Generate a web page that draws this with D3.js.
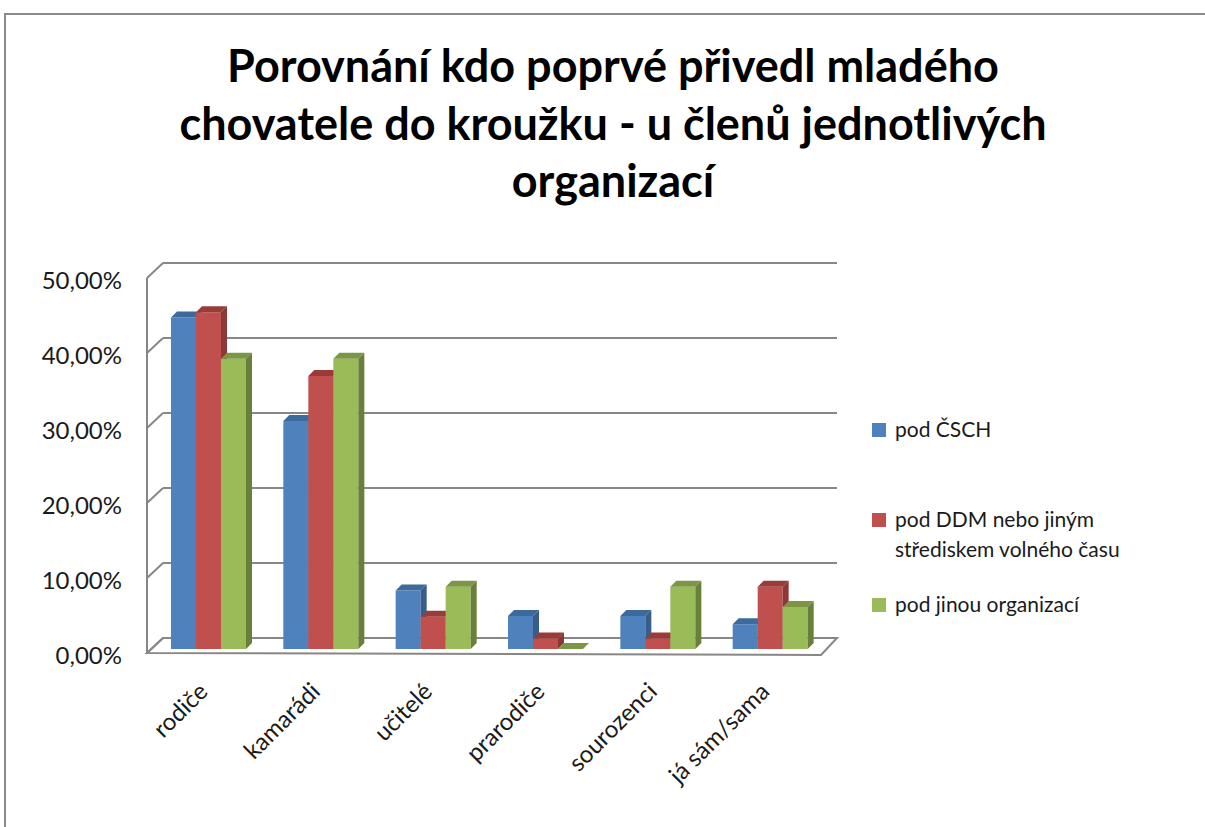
<!DOCTYPE html>
<html>
<head>
<meta charset="utf-8">
<script src="https://cdn.jsdelivr.net/npm/d3@7"></script>
<style>
  body { margin: 0; background: #fff; }
  text { font-family: Lato, "Open Sans", sans-serif; }
</style>
</head>
<body>
<script>
var categories = ["rodiče", "kamarádi", "učitelé", "prarodiče", "sourozenci", "já sám/sama"];
var seriesNames = ["pod ČSCH", "pod DDM nebo jiným střediskem volného času", "pod jinou organizací"];
var csch = [44.2, 30.4, 7.8, 4.4, 4.4, 3.3];
var ddm = [44.9, 36.4, 4.3, 1.4, 1.4, 8.3];
var jina = [38.7, 38.7, 8.3, 0, 8.3, 5.6];
var yTicks = [0, 10, 20, 30, 40, 50];
var titleLines = ["Porovnání kdo poprvé přivedl mladého", "chovatele do kroužku - u členů jednotlivých", "organizací"];
var legendLines = [["pod ČSCH"], ["pod DDM nebo jiným", "střediskem volného času"], ["pod jinou organizací"]];

var w = 1205, h = 827;
var colors = [
  {front: "#4f81bd", top: "#3d6a9c", side: "#385d8a"},
  {front: "#c0504d", top: "#9b3b39", side: "#8c3836"},
  {front: "#9bbb59", top: "#7c9646", side: "#697f3c"}
];
var values = [csch, ddm, jina];

var svg = d3.select("body").append("svg")
  .attr("width", w)
  .attr("height", h);

// chart frame
svg.append("path")
  .attr("d", "M5,830 L5,14 L1210,14")
  .attr("fill", "none")
  .attr("stroke", "#8a8a8a")
  .attr("stroke-width", 2);

// 3D geometry
var backLeft = 163, backRight = 837;
var depthX = 16, depthY = 15;      // wall depth (back -> front)
var barShiftX = 11, barShiftY = 11; // bar plane relative to back wall
var barDepth = 6;

var yBack = d3.scaleLinear().domain([0, 50]).range([638, 263]);
var yFront = d3.scaleLinear().domain([0, 50]).range([638 + depthY, 263 + depthY]);
var yBar = d3.scaleLinear().domain([0, 50]).range([638 + barShiftY, 263 + barShiftY]);

var xBar = d3.scaleBand().domain(categories).range([backLeft - barShiftX, backRight - barShiftX]);
var xSeries = d3.scaleBand().domain(d3.range(3)).range([19, 94]);

var gridColor = "#878787";

// floor
var f0 = yBack(0);
svg.append("path")
  .attr("d", "M" + backLeft + "," + f0 + " L" + backRight + "," + f0 +
    " L" + (backRight - depthX) + "," + (f0 + depthY + 2) +
    " L" + (backLeft - depthX) + "," + (f0 + depthY) + " Z")
  .attr("fill", "none")
  .attr("stroke", gridColor)
  .attr("stroke-width", 2);

// gridlines on back wall + side wall diagonals
var grid = svg.append("g");
yTicks.forEach(function(t) {
  if (t > 0) {
    grid.append("line")
      .attr("x1", backLeft).attr("x2", backRight)
      .attr("y1", yBack(t)).attr("y2", yBack(t))
      .attr("stroke", gridColor).attr("stroke-width", 2);
  }
  grid.append("line")
    .attr("x1", backLeft - depthX).attr("y1", yFront(t))
    .attr("x2", backLeft).attr("y2", yBack(t))
    .attr("stroke", gridColor).attr("stroke-width", 2);
});
grid.append("line")
  .attr("x1", backLeft - depthX).attr("x2", backLeft - depthX)
  .attr("y1", yFront(50)).attr("y2", yFront(0))
  .attr("stroke", gridColor).attr("stroke-width", 2);

// bars
var bars = svg.append("g");
categories.forEach(function(c, ci) {
  for (var s = 0; s < 3; s++) {
    var v = values[s][ci];
    var x = xBar(c) + xSeries(s);
    var bw = xSeries.bandwidth();
    var y = yBar(v), y0 = yBar(0);
    var col = colors[s];
    bars.append("rect")
      .attr("x", x).attr("y", y)
      .attr("width", bw).attr("height", y0 - y)
      .attr("fill", col.front);
    bars.append("path")
      .attr("d", "M" + x + "," + y + " L" + (x + bw) + "," + y +
        " L" + (x + bw + barDepth) + "," + (y - barDepth) +
        " L" + (x + barDepth) + "," + (y - barDepth) + " Z")
      .attr("fill", col.top);
    bars.append("path")
      .attr("d", "M" + (x + bw) + "," + y + " L" + (x + bw + barDepth) + "," + (y - barDepth) +
        " L" + (x + bw + barDepth) + "," + (y0 - barDepth) +
        " L" + (x + bw) + "," + y0 + " Z")
      .attr("fill", col.side);
  }
});

// y axis labels
var yAxis = d3.axisLeft(yFront)
  .tickValues(yTicks)
  .tickSize(0)
  .tickFormat(function(d) { return d.toFixed(2).replace(".", ",") + "%"; });
var yg = svg.append("g")
  .attr("transform", "translate(122,3)")
  .call(yAxis);
yg.select(".domain").remove();
yg.selectAll("text")
  .attr("x", 0)
  .style("font-size", "24px")
  .style("font-family", "Lato, 'Open Sans', sans-serif")
  .attr("fill", "#1a1a1a");

// x axis labels
var xFront = d3.scaleBand().domain(categories).range([backLeft - depthX, backRight - depthX]);
var xAxis = d3.axisBottom(xFront).tickSize(0);
var xg = svg.append("g")
  .attr("transform", "translate(0,676)")
  .call(xAxis);
xg.select(".domain").remove();
xg.selectAll("text")
  .attr("y", 0).attr("dy", 0)
  .attr("text-anchor", "end")
  .attr("transform", "translate(6,17) rotate(-45)")
  .style("font-size", "24px")
  .style("font-family", "Lato, 'Open Sans', sans-serif")
  .attr("fill", "#1a1a1a");

// title
var title = svg.append("text")
  .attr("text-anchor", "middle")
  .attr("font-weight", "bold")
  .attr("font-size", 45)
  .attr("fill", "#000");
var titleY = [82, 140, 197];
titleLines.forEach(function(t, i) {
  title.append("tspan").attr("x", 613).attr("y", titleY[i]).text(t);
});

// legend
var legendY = [430, 520, 605];
var legend = svg.append("g");
legendLines.forEach(function(lines, i) {
  legend.append("rect")
    .attr("x", 872).attr("y", legendY[i] - 7)
    .attr("width", 14).attr("height", 14)
    .attr("fill", colors[i].front);
  lines.forEach(function(l, j) {
    legend.append("text")
      .attr("x", 895).attr("y", legendY[i] + j * 30)
      .attr("dy", "0.35em")
      .attr("font-size", 21)
      .attr("fill", "#1a1a1a")
      .text(l);
  });
});
</script>
</body>
</html>
